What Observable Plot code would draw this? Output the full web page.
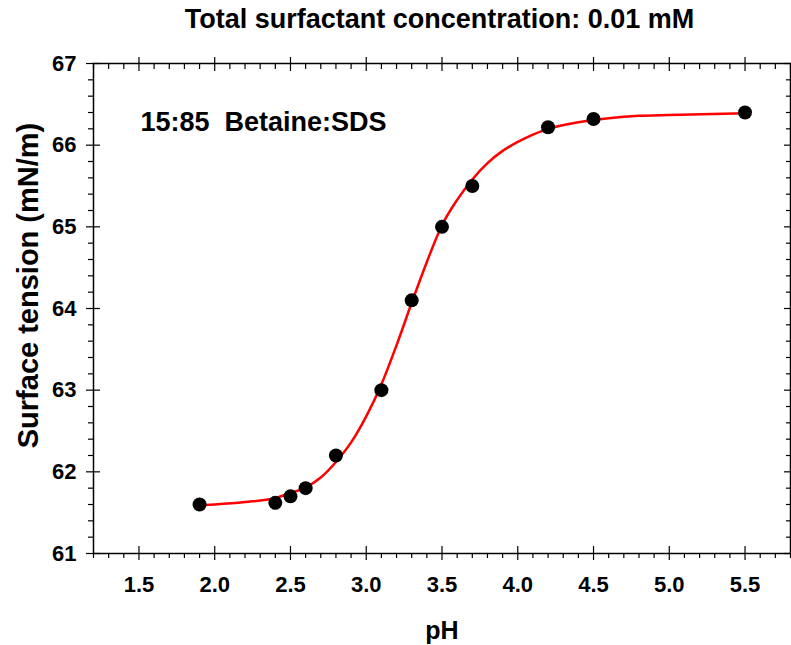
<!DOCTYPE html>
<html>
<head>
<meta charset="utf-8">
<script src="https://cdn.jsdelivr.net/npm/d3@7"></script>
<script src="https://cdn.jsdelivr.net/npm/@observablehq/plot@0.6"></script>
<style>
  html, body { margin: 0; padding: 0; background: #fff; }
  #title { width: 791px; height: 40px; box-sizing: border-box; padding-left: 88px; text-align: center;
    font-family: "Liberation Sans", Arial, sans-serif; font-weight: bold; font-size: 27px; line-height: 38px; color: #000; }
</style>
</head>
<body>
<div id="title">Total surfactant concentration: 0.01 mM</div>
<div id="chart"></div>
<script>
// measured points
const pH = [1.9, 2.4, 2.5, 2.6, 2.8, 3.1, 3.3, 3.5, 3.7, 4.2, 4.5, 5.5];
const tension = [61.6, 61.62, 61.7, 61.8, 62.2, 63.0, 64.1, 65.0, 65.5, 66.22, 66.32, 66.4];
// fitted curve
const fitPH = [1.9, 2.0, 2.2, 2.4, 2.5, 2.6, 2.7, 2.8, 2.9, 3.0, 3.1, 3.2, 3.3, 3.4, 3.5, 3.6, 3.7, 3.8, 3.9, 4.0, 4.1, 4.2, 4.4, 4.6, 4.8, 5.0, 5.5];
const fitTension = [61.59, 61.60, 61.63, 61.68, 61.74, 61.81, 61.93, 62.12, 62.36, 62.68, 63.07, 63.55, 64.07, 64.57, 65.02, 65.33, 65.58, 65.78, 65.93, 66.04, 66.13, 66.20, 66.28, 66.33, 66.36, 66.37, 66.39];
// ticks
const xMajor = [1.5, 2.0, 2.5, 3.0, 3.5, 4.0, 4.5, 5.0, 5.5];
const yMajor = [61, 62, 63, 64, 65, 66, 67];
const xDomain = [1.2, 5.8];
const yDomain = [61, 67];
const annotationText = ["15:85\u00a0\u00a0Betaine:SDS"];
const annotationPos = [1.51, 66.28];

const xMinor = d3.range(12, 59).map(v => v / 10).filter(v => !xMajor.some(m => Math.abs(m - v) < 1e-9));
const yMinor = d3.range(305, 336).map(v => v / 5).filter(v => !yMajor.some(m => Math.abs(m - v) < 1e-9));

const points = pH.map((x, i) => ({x, y: tension[i]}));
const fit = fitPH.map((x, i) => ({x, y: fitTension[i]}));

const font = {fontFamily: "Liberation Sans, Arial, sans-serif", fontWeight: "bold"};
const tk = {stroke: "#000", fill: "none", label: null, strokeWidth: 1.2};

const chart = Plot.plot({
  width: 791,
  height: 605,
  marginTop: 23,
  marginBottom: 92,
  marginLeft: 93,
  marginRight: 1,
  style: {fontFamily: "Liberation Sans, Arial, sans-serif", fontWeight: "bold", fontSize: "22px", background: "#fff", color: "#000"},
  x: {domain: xDomain},
  y: {domain: yDomain},
  marks: [
    Plot.frame({stroke: "#000", strokeWidth: 1.5}),
    // labels
    Plot.axisX(xMajor, {anchor: "bottom", tickSize: 0, tickPadding: 23, tickFormat: d => d.toFixed(1), label: null, fontSize: 22, ...font}),
    Plot.axisY(yMajor, {anchor: "left", tickSize: 0, tickPadding: 17, tickFormat: d => String(d), label: null, fontSize: 22, ...font}),
    // major ticks (crossing)
    Plot.axisX(xMajor, {anchor: "bottom", tickSize: 14, dy: -7, ...tk}),
    Plot.axisX(xMajor, {anchor: "top", tickSize: 14, dy: 7, ...tk}),
    Plot.axisY(yMajor, {anchor: "left", tickSize: 14, dx: 7, ...tk}),
    Plot.axisY(yMajor, {anchor: "right", tickSize: 14, dx: -7, ...tk}),
    // minor ticks
    Plot.axisX(xMinor, {anchor: "bottom", tickSize: 5, ...tk}),
    Plot.axisX(xMinor, {anchor: "top", tickSize: 5, dy: 5, ...tk}),
    Plot.axisY(yMinor, {anchor: "left", tickSize: 5, ...tk}),
    Plot.axisY(yMinor, {anchor: "right", tickSize: 5, dx: -5, ...tk}),
    // axis titles
    Plot.text(["pH"], {frameAnchor: "bottom", dy: 77, lineAnchor: "middle", textAnchor: "middle", fontSize: 25, ...font, fill: "#000"}),
    Plot.text(["Surface tension (mN/m)"], {frameAnchor: "left", dx: -65, dy: -23, rotate: -90, textAnchor: "middle", lineAnchor: "middle", fontSize: 29, ...font, fill: "#000"}),
    // annotation
    Plot.text(annotationText, {x: annotationPos[0], y: annotationPos[1], textAnchor: "start", lineAnchor: "middle", fontSize: 27, ...font, fill: "#000"}),
    // data
    Plot.line(fit, {x: "x", y: "y", stroke: "#ff0000", strokeWidth: 2.5, curve: "monotone-x"}),
    Plot.dot(points, {x: "x", y: "y", r: 7, fill: "#000", stroke: "none"})
  ]
});
document.getElementById("chart").appendChild(chart);
</script>
</body>
</html>
